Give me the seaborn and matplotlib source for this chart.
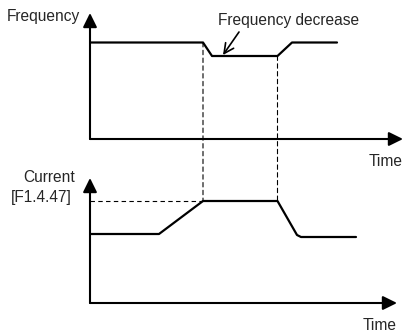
import matplotlib
matplotlib.use("Agg")
import matplotlib.pyplot as plt
from matplotlib.patches import ConnectionPatch
import seaborn as sns
import pandas as pd

# ---- data (schematic units) ----
freq_time = [0.0, 11.3, 12.2, 18.75, 20.2, 24.7]
freq_value = [9.65, 9.65, 8.3, 8.3, 9.65, 9.65]

curr_time = [0.0, 6.9, 11.3, 18.75, 20.7, 21.1, 26.6]
curr_value = [6.9, 6.9, 10.2, 10.2, 6.8, 6.6, 6.6]

limit_label = "[F1.4.47]"
limit_value = 10.2
event_times = [11.3, 18.75]

sns.set_theme(style="white")
plt.rcParams["font.family"] = ["Liberation Sans", "DejaVu Sans"]
FS = 11.2

W, H = 405, 333
fig = plt.figure(figsize=(W / 100, H / 100), dpi=100)
fig.patch.set_facecolor("white")

def px_axes(left, right, bottom, top):
    return fig.add_axes([left / W, (H - bottom) / H, (right - left) / W, (bottom - top) / H])

ax1 = px_axes(90, 403, 139, 13)
ax1.set_xlim(0, 31.3)
ax1.set_ylim(0, 12.6)
ax2 = px_axes(90, 397, 303, 178)
ax2.set_xlim(0, 30.7)
ax2.set_ylim(0, 12.5)

for ax in (ax1, ax2):
    ax.set_facecolor("none")
    for s in ax.spines.values():
        s.set_visible(False)
    ax.set_xticks([])
    ax.set_yticks([])
    arrow = dict(arrowstyle="-|>,head_length=0.85,head_width=0.42", color="black",
                 lw=1.5, shrinkA=0, shrinkB=0, mutation_scale=10)
    ax.annotate("", xy=(1, 0), xytext=(0, 0), xycoords="axes fraction",
                textcoords="axes fraction", arrowprops=arrow, annotation_clip=False)
    ax.annotate("", xy=(0, 1), xytext=(0, 0), xycoords="axes fraction",
                textcoords="axes fraction", arrowprops=arrow, annotation_clip=False)

df_f = pd.DataFrame({"Time": freq_time, "Frequency": freq_value})
df_c = pd.DataFrame({"Time": curr_time, "Current": curr_value})
sns.lineplot(data=df_f, x="Time", y="Frequency", ax=ax1, color="black", lw=1.6, sort=False)
sns.lineplot(data=df_c, x="Time", y="Current", ax=ax2, color="black", lw=1.6, sort=False)
ax1.set_xlabel(""); ax1.set_ylabel("")
ax2.set_xlabel(""); ax2.set_ylabel("")

# dashed helper lines
ax2.plot([0, event_times[0]], [limit_value, limit_value], ls=(0, (4, 3)), color="black", lw=0.8)
top_vals = [freq_value[1], freq_value[3]]
for t, fv in zip(event_times, top_vals):
    con = ConnectionPatch(xyA=(t, fv), coordsA=ax1.transData,
                          xyB=(t, limit_value), coordsB=ax2.transData,
                          ls=(0, (4, 3)), color="black", lw=0.8)
    fig.add_artist(con)

# labels
ax1.text(-1.0, 12.3, "Frequency", ha="right", va="center", fontsize=FS)
ax1.text(31.25, -2.3, "Time", ha="right", va="center", fontsize=FS, clip_on=False)
ax2.text(-1.5, 12.6, "Current", ha="right", va="center", fontsize=FS)
ax2.text(-1.8, 10.6, limit_label, ha="right", va="center", fontsize=FS)
ax2.text(27.3, -2.2, "Time", ha="left", va="center", fontsize=FS, clip_on=False)
ax1.text(12.8, 11.9, "Frequency decrease", ha="left", va="center", fontsize=FS)
ax1.annotate("", xy=(13.3, 8.4), xytext=(14.9, 10.7),
             arrowprops=dict(arrowstyle="->,head_length=0.7,head_width=0.35", color="black",
                             lw=1.2, shrinkA=0, shrinkB=0, mutation_scale=10))

fig.savefig("out.png", dpi=100)
